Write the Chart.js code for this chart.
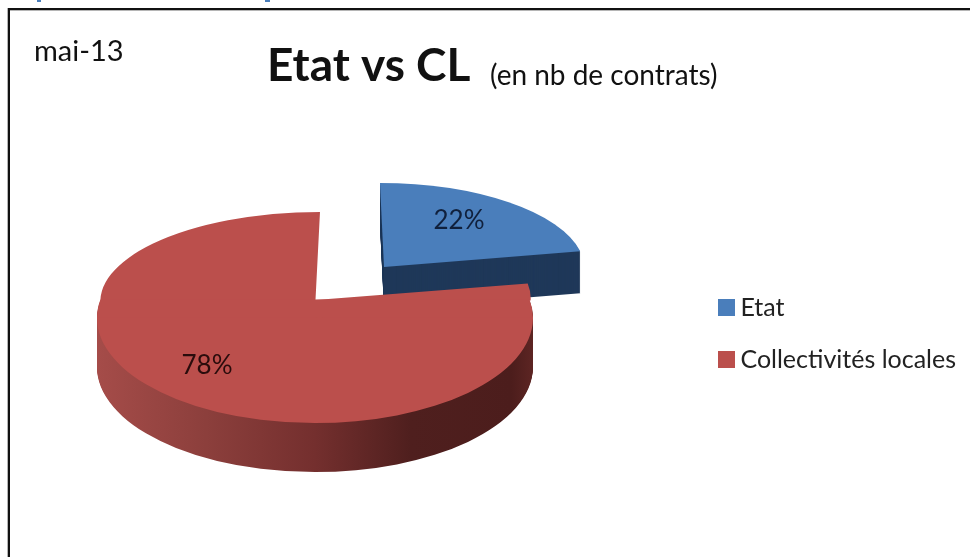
<!DOCTYPE html>
<html>
<head>
<meta charset="utf-8">
<title>Etat vs CL</title>
<script src="https://cdn.jsdelivr.net/npm/chart.js@4.4.3/dist/chart.umd.min.js"></script>
<style>
  html, body { margin: 0; padding: 0; background: #fff; overflow: hidden; }
  #wrap { position: relative; width: 970px; height: 557px; }
  #pie { position: absolute; left: 0; top: 0; }
  /* frame of the pasted chart: no right or bottom side in the crop */
  .frame { position: absolute; background: #111; }
  .soft { position: absolute; background: #b5b5b5; }
  .tail { position: absolute; top: 0; height: 2px; background: #4a7ebb; }
</style>
</head>
<body>
<div id="wrap">
  <canvas id="pie" width="970" height="557"></canvas>
  <div class="soft" style="left:10px;top:10px;width:960px;height:1px"></div>
  <div class="soft" style="left:7px;top:8px;width:1px;height:549px"></div>
  <div class="frame" style="left:8px;top:8px;width:962px;height:2px"></div>
  <div class="frame" style="left:8px;top:8px;width:2px;height:549px"></div>
  <div class="tail" style="left:37px;width:4px"></div>
  <div class="tail" style="left:265px;width:5px"></div>
</div>
<script>
// Values
const categories = ["Etat", "Collectivités locales"];
const shares = [22, 78];
const dateLabel = "mai-13";
const titleText = "Etat vs CL";
const subtitleText = "(en nb de contrats)";

const font = "Lato, Carlito, sans-serif";
const RADIUS = 218;

// Where each slice goes on the page. The reference has a perspective tilt, so
// the tip of the red slice is not the middle of its ellipse: above y=300 it is
// placed by the tip, below that by the ellipse centre (sy<0 mirrors the lower
// half, which has no gap in it, to fill the strip above the centre).
const placement = [
  { depth: 42, side: "#1f3859", bands: [
    { from: 0, to: 557, x: 384, y: 267, sx: 0.92, sy: 0.385, skew: 0.048 }
  ] },
  { depth: 49, bands: [
    { from: 0, to: 300, x: 315.5, y: 300, sx: 0.987, sy: 0.404, skew: -0.051, faceOnly: true },
    { from: 300, to: 318, x: 315, y: 318, sx: 1, sy: -0.482, skew: 0 },
    { from: 318, to: 557, x: 315, y: 318, sx: 1, sy: 0.482, skew: 0 }
  ] }
];
const labelSpots = [{ x: 459, y: 221 }, { x: 207, y: 366 }];

function sideFill(ctx, el, place) {
  if (place.side) return place.side;
  const g = ctx.createLinearGradient(el.x - RADIUS, 0, el.x + RADIUS, 0);
  g.addColorStop(0, "#a54c49");
  g.addColorStop(0.25, "#8c3f3c");
  g.addColorStop(0.5, "#742f2e");
  g.addColorStop(0.72, "#4f1f1e");
  g.addColorStop(0.95, "#4c1d1c");
  g.addColorStop(1, "#5d2523");
  return g;
}

// draws one arc element in the tilted space, once per band
function drawTilted(ctx, el, place, dy) {
  place.bands.forEach(b => {
    if (dy > 0 && b.faceOnly) return;
    ctx.save();
    ctx.beginPath();
    ctx.rect(0, b.from + dy - 0.5, 970, b.to - b.from + 1);
    ctx.clip();
    ctx.translate(b.x, b.y + dy);
    ctx.transform(1, 0, b.skew, 1, 0, 0);
    ctx.scale(b.sx, b.sy);
    ctx.translate(-el.x, -el.y);
    el.draw(ctx);
    ctx.restore();
  });
}

const tiltedPie = {
  id: "tiltedPie",
  beforeDatasetsDraw(chart) {
    const ctx = chart.ctx;
    const arcs = chart.getDatasetMeta(0).data;
    arcs.forEach((el, i) => {
      const place = placement[i];
      const faceOptions = el.options;
      el.options = Object.assign({}, faceOptions, { backgroundColor: sideFill(ctx, el, place) });
      for (let dy = place.depth; dy > 0; dy--) drawTilted(ctx, el, place, dy);
      el.options = faceOptions;
      drawTilted(ctx, el, place, 0);
    });
    return false;   // the slices are done, skip the flat pie
  },
  afterDraw(chart) {
    const ctx = chart.ctx;
    ctx.save();
    ctx.textBaseline = "alphabetic";
    ctx.fillStyle = "#111";
    ctx.textAlign = "left";
    ctx.font = "29px " + font;
    ctx.fillText(dateLabel, 34, 61);
    ctx.font = "bold 46px " + font;
    ctx.fillText(titleText, 267, 81);
    ctx.font = "28px " + font;
    ctx.fillText(subtitleText, 490, 85);

    ctx.textAlign = "center";
    ctx.textBaseline = "middle";
    ctx.font = "26px " + font;
    shares.forEach((v, i) => {
      ctx.fillStyle = i === 0 ? "#10203c" : "#2a0c0c";
      ctx.fillText(v + "%", labelSpots[i].x, labelSpots[i].y);
    });
    ctx.restore();
  }
};

const sliceColors = ["#4a7ebb", "#bb4f4c"];

// legend swatches as images, the stock box sits too far from the text
function swatch(color) {
  const c = document.createElement("canvas");
  c.width = 17;
  c.height = 17;
  const g = c.getContext("2d");
  g.fillStyle = color;
  g.fillRect(0, 0, 17, 17);
  return c;
}

new Chart(document.getElementById("pie"), {
  type: "pie",
  data: {
    labels: categories,
    datasets: [{
      data: shares,
      backgroundColor: sliceColors,
      borderWidth: 0
    }]
  },
  options: {
    responsive: false,
    animation: false,
    radius: RADIUS,
    layout: { padding: { top: 110, right: 4 } },
    plugins: {
      tooltip: { enabled: false },
      legend: {
        position: "right",
        labels: {
          usePointStyle: true,
          pointStyleWidth: 2,
          boxHeight: 17,
          padding: 27,
          color: "#222",
          font: { family: font, size: 25 },
          generateLabels(chart) {
            return categories.map((text, i) => ({
              text,
              index: i,
              hidden: false,
              fontColor: "#222",
              fillStyle: sliceColors[i],
              strokeStyle: sliceColors[i],
              lineWidth: 0,
              pointStyle: swatch(sliceColors[i])
            }));
          }
        }
      }
    }
  },
  plugins: [tiltedPie]
});
</script>
</body>
</html>
